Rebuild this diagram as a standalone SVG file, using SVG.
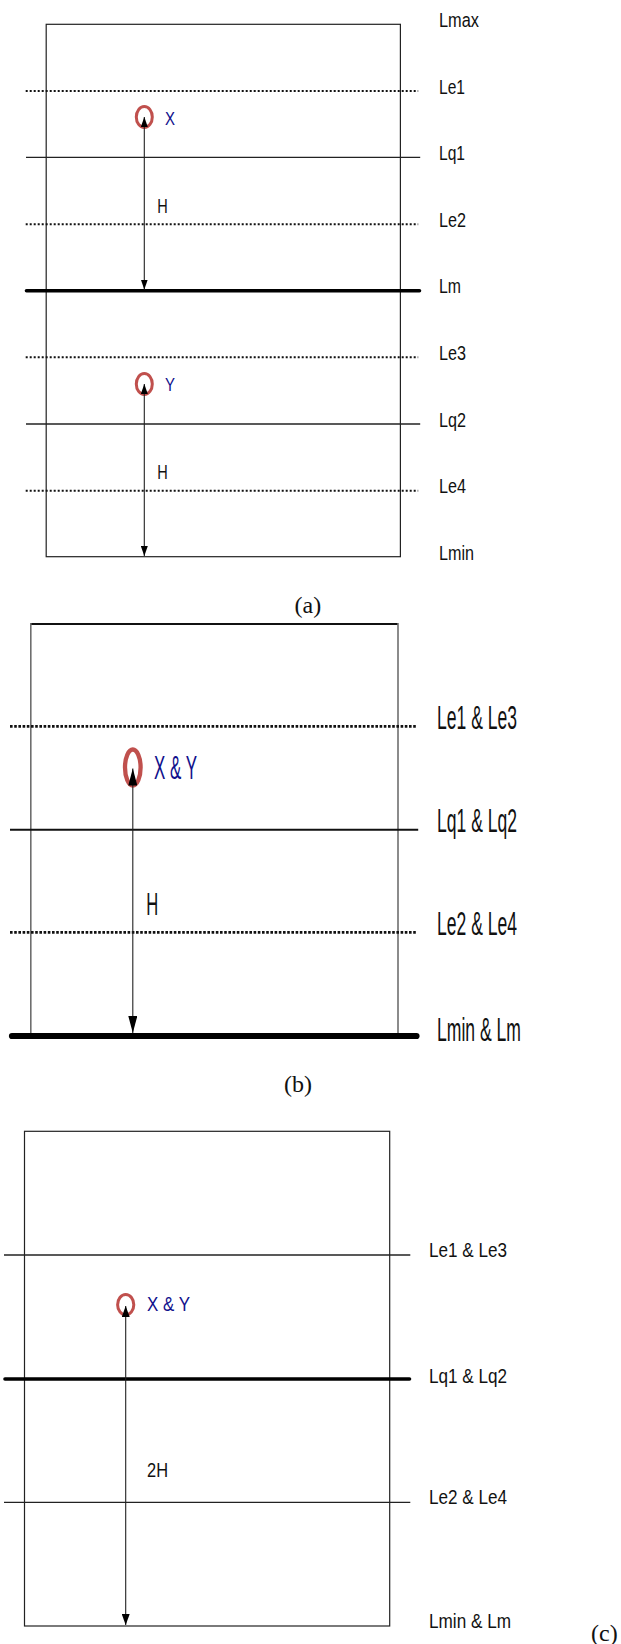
<svg xmlns="http://www.w3.org/2000/svg" width="621" height="1644" viewBox="0 0 621 1644">
<style>
.bg{fill:#ffffff}
.frame{fill:none;stroke:#222;stroke-width:1.2}
.side{stroke:#6e6e6e;stroke-width:1.6}
.dotA{stroke:#111;stroke-width:2;stroke-dasharray:2 2}
.dotB{stroke:#111;stroke-width:2.8;stroke-dasharray:2.6 1.6}
.thin{stroke:#222;stroke-width:1.3}
.thick{stroke:#000;stroke-linecap:round}
.ring{fill:none;stroke:#c0504d}
.lbl{font-family:"Liberation Sans",Arial,sans-serif;fill:#111}
.pt{font-family:"Liberation Sans",Arial,sans-serif;fill:#10108c}
.cap{font-family:"Liberation Serif","Times New Roman",serif;font-size:24px;fill:#111}
.arr{stroke:#222;stroke-width:1.1;fill:none}
</style>
<defs>
<marker id="hA" markerUnits="userSpaceOnUse" markerWidth="10" markerHeight="7" refX="10" refY="3.5" orient="auto-start-reverse" viewBox="0 0 10 7"><path d="M0,0 L10,3.5 L0,7 z" fill="#000"/></marker>
<marker id="hB" markerUnits="userSpaceOnUse" markerWidth="17" markerHeight="9" refX="17" refY="4.5" orient="auto-start-reverse" viewBox="0 0 17 9"><path d="M0,0 L17,4.5 L0,9 z" fill="#000"/></marker>
<marker id="hC" markerUnits="userSpaceOnUse" markerWidth="11" markerHeight="8" refX="11" refY="4" orient="auto-start-reverse" viewBox="0 0 11 8"><path d="M0,0 L11,4 L0,8 z" fill="#000"/></marker>
</defs>
<rect class="bg" x="0" y="0" width="621" height="1644"/>

<!-- Panel (a) -->
<g id="panel-a">
  <rect id="a-frame" class="frame" x="46.2" y="24.3" width="354.2" height="532.4"/>
  <g id="a-Lmax"><text class="lbl" x="439" y="27" font-size="20.5" textLength="40" lengthAdjust="spacingAndGlyphs">Lmax</text></g>
  <g id="a-Le1"><line class="dotA" x1="25.7" y1="91" x2="418.2" y2="91"/><text class="lbl" x="439" y="93.5" font-size="20.5" textLength="26" lengthAdjust="spacingAndGlyphs">Le1</text></g>
  <g id="a-Lq1"><line class="thin" x1="26" y1="157.3" x2="420.2" y2="157.3"/><text class="lbl" x="439" y="160" font-size="20.5" textLength="26" lengthAdjust="spacingAndGlyphs">Lq1</text></g>
  <g id="a-Le2"><line class="dotA" x1="25.7" y1="224.3" x2="418.2" y2="224.3"/><text class="lbl" x="439" y="226.8" font-size="20.5" textLength="27" lengthAdjust="spacingAndGlyphs">Le2</text></g>
  <g id="a-Lm"><line class="thick" stroke-width="3.6" x1="26.5" y1="290.7" x2="419.5" y2="290.7"/><text class="lbl" x="439" y="293" font-size="20.5" textLength="22" lengthAdjust="spacingAndGlyphs">Lm</text></g>
  <g id="a-Le3"><line class="dotA" x1="25.7" y1="357.3" x2="418.2" y2="357.3"/><text class="lbl" x="439" y="359.8" font-size="20.5" textLength="27" lengthAdjust="spacingAndGlyphs">Le3</text></g>
  <g id="a-Lq2"><line class="thin" x1="26" y1="424" x2="420.2" y2="424"/><text class="lbl" x="439" y="426.5" font-size="20.5" textLength="27" lengthAdjust="spacingAndGlyphs">Lq2</text></g>
  <g id="a-Le4"><line class="dotA" x1="25.7" y1="490.7" x2="418.2" y2="490.7"/><text class="lbl" x="439" y="493.2" font-size="20.5" textLength="27" lengthAdjust="spacingAndGlyphs">Le4</text></g>
  <g id="a-Lmin"><text class="lbl" x="439" y="559.5" font-size="20.5" textLength="35" lengthAdjust="spacingAndGlyphs">Lmin</text></g>
  <g id="a-X"><ellipse class="ring" stroke-width="3" cx="144.3" cy="117" rx="8" ry="10.5"/><text class="pt" x="165" y="124.5" font-size="19" textLength="10" lengthAdjust="spacingAndGlyphs">X</text></g>
  <g id="a-Y"><ellipse class="ring" stroke-width="3" cx="144.3" cy="384" rx="8" ry="10.5"/><text class="pt" x="165" y="391" font-size="19" textLength="10" lengthAdjust="spacingAndGlyphs">Y</text></g>
  <text id="a-H1" class="lbl" x="157.3" y="212.7" font-size="21" textLength="10.5" lengthAdjust="spacingAndGlyphs">H</text>
  <text id="a-H2" class="lbl" x="157.3" y="479" font-size="21" textLength="10.5" lengthAdjust="spacingAndGlyphs">H</text>
  <text id="a-caption" class="cap" x="294.5" y="613">(a)</text>
</g>

<!-- Panel (b) -->
<g id="panel-b">
  <g id="b-frame">
    <line stroke="#111" stroke-width="2" x1="30.8" y1="624" x2="398" y2="624"/>
    <line class="side" x1="30.8" y1="623" x2="30.8" y2="1036"/>
    <line class="side" x1="398" y1="623" x2="398" y2="1036"/>
  </g>
  <g id="b-Le13"><line class="dotB" x1="10" y1="726.3" x2="416.2" y2="726.3"/><text class="lbl" x="437" y="728.5" font-size="33.5" textLength="80" lengthAdjust="spacingAndGlyphs">Le1 &amp; Le3</text></g>
  <g id="b-Lq12"><line stroke="#111" stroke-width="2" x1="10" y1="829.7" x2="418.2" y2="829.7"/><text class="lbl" x="437" y="831.5" font-size="33.5" textLength="80" lengthAdjust="spacingAndGlyphs">Lq1 &amp; Lq2</text></g>
  <g id="b-Le24"><line class="dotB" x1="10" y1="932.3" x2="416.2" y2="932.3"/><text class="lbl" x="437" y="934.5" font-size="33.5" textLength="80" lengthAdjust="spacingAndGlyphs">Le2 &amp; Le4</text></g>
  <g id="b-Lmin"><line class="thick" stroke-width="6.2" x1="12" y1="1036" x2="416.5" y2="1036"/><text class="lbl" x="437" y="1041" font-size="33.5" textLength="84" lengthAdjust="spacingAndGlyphs">Lmin &amp; Lm</text></g>
  <g id="b-XY"><ellipse class="ring" stroke-width="4.3" cx="132.8" cy="767.5" rx="7.8" ry="18"/><text class="pt" x="154" y="779" font-size="34" textLength="43" lengthAdjust="spacingAndGlyphs">X &amp; Y</text></g>
  <text id="b-H" class="lbl" x="146.2" y="915" font-size="32" textLength="12" lengthAdjust="spacingAndGlyphs">H</text>
  <text id="b-caption" class="cap" x="284" y="1092">(b)</text>
</g>

<!-- Panel (c) -->
<g id="panel-c">
  <rect id="c-frame" class="frame" x="24.5" y="1131.3" width="365.2" height="494.7"/>
  <g id="c-Le13"><line class="thin" x1="4" y1="1255" x2="410.3" y2="1255"/><text class="lbl" x="429" y="1257" font-size="21" textLength="78" lengthAdjust="spacingAndGlyphs">Le1 &amp; Le3</text></g>
  <g id="c-Lq12"><line class="thick" stroke-width="3.6" x1="5" y1="1379" x2="409.5" y2="1379"/><text class="lbl" x="429" y="1383.3" font-size="21" textLength="78" lengthAdjust="spacingAndGlyphs">Lq1 &amp; Lq2</text></g>
  <g id="c-Le24"><line class="thin" x1="4" y1="1502.3" x2="410.3" y2="1502.3"/><text class="lbl" x="429" y="1503.5" font-size="21" textLength="78" lengthAdjust="spacingAndGlyphs">Le2 &amp; Le4</text></g>
  <g id="c-Lmin"><text class="lbl" x="429" y="1627.7" font-size="21" textLength="82" lengthAdjust="spacingAndGlyphs">Lmin &amp; Lm</text></g>
  <g id="c-XY"><ellipse class="ring" stroke-width="3" cx="125.7" cy="1304.7" rx="8.1" ry="10.2"/><text class="pt" x="147" y="1311" font-size="21" textLength="43" lengthAdjust="spacingAndGlyphs">X &amp; Y</text></g>
  <text id="c-2H" class="lbl" x="147" y="1477" font-size="20" textLength="21" lengthAdjust="spacingAndGlyphs">2H</text>
  <text id="c-caption" class="cap" x="591" y="1641">(c)</text>
</g>

<!-- Connectors -->
<g id="connectors">
  <line class="arr" x1="144.3" y1="117" x2="144.3" y2="289.5" marker-start="url(#hA)" marker-end="url(#hA)"/>
  <line class="arr" x1="144.3" y1="384" x2="144.3" y2="556" marker-start="url(#hA)" marker-end="url(#hA)"/>
  <line class="arr" stroke="#555" stroke-width="1.3" x1="132.8" y1="768.5" x2="132.8" y2="1033" marker-start="url(#hB)" marker-end="url(#hB)"/>
  <line class="arr" stroke="#444" stroke-width="1.3" x1="125.7" y1="1306" x2="125.7" y2="1625" marker-start="url(#hC)" marker-end="url(#hC)"/>
</g>
</svg>
